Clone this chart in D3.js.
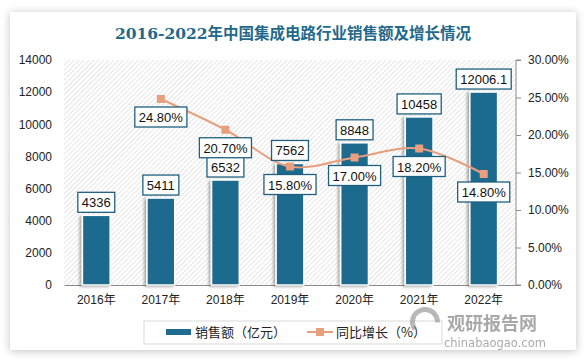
<!DOCTYPE html>
<html>
<head>
<meta charset="utf-8">
<script src="https://cdn.jsdelivr.net/npm/d3@7"></script>
<style>
  body { margin: 0; background: #ffffff; }
  svg { display: block; }
</style>
</head>
<body>
<svg width="588" height="363"></svg>
<script>
// data
const years = ['2016年', '2017年', '2018年', '2019年', '2020年', '2021年', '2022年'];
const sales = [4336, 5411, 6532, 7562, 8848, 10458, 12006.1];
const growth = [null, 24.8, 20.7, 15.8, 17.0, 18.2, 14.8];
const leftTicks = [0, 2000, 4000, 6000, 8000, 10000, 12000, 14000];
const rightTicks = [0, 5, 10, 15, 20, 25, 30];

const svg = d3.select('svg');
const numFont = '"Liberation Sans", Arial, "Noto Sans CJK SC", sans-serif';
const barCol = '#1f6b8e';
const lineCol = '#e99e7d';

// plot area
let plot = {left: 64, right: 516, top: 60, bottom: 285};

let defs = svg.append('defs');

let cardShadow = defs.append('filter')
    .attr('id', 'cardShadow')
    .attr('x', '-10%').attr('y', '-10%')
    .attr('width', '120%').attr('height', '120%');
cardShadow.append('feDropShadow')
    .attr('dx', 0).attr('dy', 1)
    .attr('stdDeviation', 4)
    .attr('flood-color', '#000')
    .attr('flood-opacity', 0.25);

let barShadow = defs.append('filter')
    .attr('id', 'barShadow')
    .attr('x', '-30%').attr('y', '-10%')
    .attr('width', '160%').attr('height', '120%');
barShadow.append('feDropShadow')
    .attr('dx', -2).attr('dy', 1)
    .attr('stdDeviation', 1.5)
    .attr('flood-color', '#000')
    .attr('flood-opacity', 0.35);

let hatch = defs.append('pattern')
    .attr('id', 'hatch')
    .attr('patternUnits', 'userSpaceOnUse')
    .attr('width', 3.5).attr('height', 3.5)
    .attr('patternTransform', 'rotate(45)');
hatch.append('rect')
    .attr('width', 3.5).attr('height', 3.5)
    .style('fill', '#ffffff');
hatch.append('line')
    .attr('x1', 0).attr('y1', 0)
    .attr('x2', 0).attr('y2', 3.5)
    .style('stroke', '#d6d6d6')
    .style('stroke-width', 1.2);

// card
svg.append('rect')
    .attr('x', 10).attr('y', 12)
    .attr('width', 566).attr('height', 338)
    .style('fill', '#ffffff')
    .attr('filter', 'url(#cardShadow)');

// title
svg.append('text')
    .text('2016-2022年中国集成电路行业销售额及增长情况')
    .attr('x', 293).attr('y', 39)
    .style('text-anchor', 'middle')
    .style('font-family', '"DejaVu Serif", "Noto Sans CJK SC", serif')
    .style('font-weight', 'bold')
    .style('font-size', '15.5px')
    .style('fill', '#22698c');

// hatched plot background
svg.append('rect')
    .attr('x', plot.left).attr('y', plot.top)
    .attr('width', plot.right - plot.left)
    .attr('height', plot.bottom - plot.top)
    .style('fill', 'url(#hatch)');

// scales
let x = d3.scaleBand()
    .domain(years)
    .range([plot.left, plot.right])
    .paddingInner(0.57)
    .paddingOuter(0.285);

let xc = d3.scaleBand().domain(years).range([plot.left, plot.right]);

let yL = d3.scaleLinear().domain([0, 14000]).range([plot.bottom, plot.top]);
let yR = d3.scaleLinear().domain([0, 30]).range([plot.bottom, plot.top]);

// left axis (labels only)
let leftAxis = svg.append('g')
    .attr('transform', `translate(${plot.left}, 0)`)
    .call(d3.axisLeft(yL).tickValues(leftTicks).tickSize(0).tickPadding(12).tickFormat(d => d));
leftAxis.select('.domain').remove();
leftAxis.selectAll('text')
    .style('font-family', numFont)
    .style('font-size', '12px')
    .style('fill', '#222');

// right axis
let rightAxis = svg.append('g')
    .attr('transform', `translate(${plot.right}, 0)`)
    .call(d3.axisRight(yR).tickValues(rightTicks).tickSize(5).tickPadding(7).tickFormat(d => d3.format('.2f')(d) + '%'));
rightAxis.select('.domain').style('stroke', '#8c8c8c').attr('d', `M5,${plot.top}H0V${plot.bottom}H5`);
rightAxis.selectAll('.tick line').style('stroke', '#8c8c8c');
rightAxis.selectAll('text')
    .style('font-family', numFont)
    .style('font-size', '12px')
    .style('fill', '#222');

// bottom axis
let bottomAxis = svg.append('g')
    .attr('transform', `translate(0, ${plot.bottom})`)
    .call(d3.axisBottom(xc).tickSize(0).tickPadding(10));
bottomAxis.select('.domain').style('stroke', '#8c8c8c');
bottomAxis.selectAll('text')
    .style('font-family', numFont)
    .style('font-size', '12px')
    .style('fill', '#222');

// bars
svg.append('g')
    .selectAll('rect')
    .data(sales)
    .enter()
    .append('rect')
    .attr('x', (d, i) => x(years[i]))
    .attr('y', d => yL(d))
    .attr('width', x.bandwidth())
    .attr('height', d => plot.bottom - yL(d))
    .style('fill', barCol)
    .style('stroke', '#ffffff')
    .style('stroke-width', 1.5)
    .attr('filter', 'url(#barShadow)');

// growth line
let pts = growth.map((d, i) => [xc(years[i]) + xc.bandwidth() / 2, d]).filter(p => p[1] !== null);

svg.append('path')
    .datum(pts)
    .attr('d', d3.line().x(p => p[0]).y(p => yR(p[1])).curve(d3.curveCatmullRom.alpha(0.5)))
    .style('fill', 'none')
    .style('stroke', lineCol)
    .style('stroke-width', 2);

svg.append('g')
    .selectAll('rect')
    .data(pts)
    .enter()
    .append('rect')
    .attr('x', p => p[0] - 4)
    .attr('y', p => yR(p[1]) - 4)
    .attr('width', 8).attr('height', 8)
    .style('fill', lineCol);

// labelled boxes
function boxLabel(g, cx, top, txt) {
    let t = g.append('text')
        .text(txt)
        .attr('x', cx).attr('y', top + 15)
        .style('text-anchor', 'middle')
        .style('font-family', numFont)
        .style('font-size', '13px')
        .style('fill', '#111');
    let w = t.node().getComputedTextLength() + 8;
    g.insert('rect', 'text')
        .attr('x', cx - w / 2).attr('y', top)
        .attr('width', w).attr('height', 20)
        .style('fill', '#ffffff')
        .style('stroke', '#1f5f80')
        .style('stroke-width', 1.3);
}

sales.forEach((d, i) => {
    let g = svg.append('g');
    boxLabel(g, x(years[i]) + x.bandwidth() / 2, yL(d) - 23, d);
});

pts.forEach(p => {
    let g = svg.append('g');
    boxLabel(g, p[0], yR(p[1]) + 8, d3.format('.2f')(p[1]) + '%');
});

// legend
let legend = svg.append('g');
legend.append('rect')
    .attr('x', 144).attr('y', 321)
    .attr('width', 298).attr('height', 23)
    .style('fill', '#ffffff')
    .style('stroke', '#d9d9d9');
legend.append('rect')
    .attr('x', 166).attr('y', 329)
    .attr('width', 25).attr('height', 6)
    .style('fill', barCol);
legend.append('text')
    .text('销售额（亿元）')
    .attr('x', 195).attr('y', 337)
    .style('font-family', '"Noto Sans CJK SC", sans-serif')
    .style('font-size', '13px')
    .style('fill', '#222');
legend.append('line')
    .attr('x1', 307).attr('x2', 333)
    .attr('y1', 332).attr('y2', 332)
    .style('stroke', lineCol)
    .style('stroke-width', 2);
legend.append('rect')
    .attr('x', 316).attr('y', 328)
    .attr('width', 8).attr('height', 8)
    .style('fill', lineCol);
legend.append('text')
    .text('同比增长（%）')
    .attr('x', 336).attr('y', 337)
    .style('font-family', '"Noto Sans CJK SC", sans-serif')
    .style('font-size', '13px')
    .style('fill', '#222');

// watermark
let wm = svg.append('g').style('opacity', 0.6);
wm.append('text')
    .text('观研报告网')
    .attr('x', 447).attr('y', 330)
    .style('font-family', '"Noto Sans CJK SC", sans-serif')
    .style('font-weight', 'bold')
    .style('font-size', '18px')
    .style('fill', '#707070');
wm.append('text')
    .text('chinabaogao.com')
    .attr('x', 444).attr('y', 347)
    .style('font-family', '"DejaVu Sans", sans-serif')
    .style('font-size', '11.5px')
    .style('fill', '#707070');
wm.append('path')
    .attr('d', d3.arc()({innerRadius: 10, outerRadius: 15, startAngle: -2.2, endAngle: 1.6}))
    .attr('transform', 'translate(425, 322)')
    .style('fill', '#8a8a8a');
</script>
</body>
</html>
